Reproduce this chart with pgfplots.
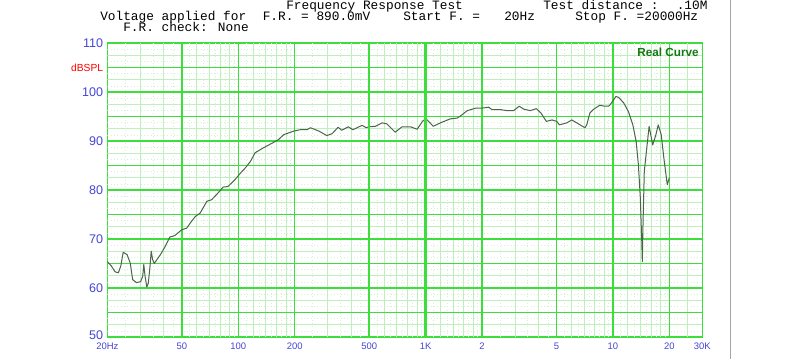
\documentclass[border=0pt]{standalone}
\usepackage{fontspec}
\setmainfont{Liberation Sans}
\newfontfamily\monof{Liberation Mono}
\usepackage{pgfplots}
\pgfplotsset{compat=1.18}
\definecolor{gmaj}{RGB}{60,222,60}
\definecolor{gmin}{RGB}{190,240,190}
\definecolor{gdot}{RGB}{210,242,210}
\definecolor{tickblue}{RGB}{70,70,215}
\definecolor{curvecol}{RGB}{75,100,75}
\definecolor{rcgreen}{RGB}{20,120,20}
\begin{document}
\begin{tikzpicture}[x=0.75pt,y=0.75pt]
\useasboundingbox (0,0) rectangle (800,359);
\fill[white] (0,0) rectangle (800,359);
\draw[gray!70, line width=0.75pt] (730,0) -- (730,359);
\begin{axis}[
  at={(80.5pt,16.5pt)}, anchor=south west,
  scale only axis, width=446.25pt, height=220.5pt,
  xmode=log, xmin=20, xmax=30000, ymin=50, ymax=110,
  xtick={20,50,100,200,500,1000,2000,5000,10000,20000,30000},
  xticklabels={20Hz,50,100,200,500,1K,2,5,10,20,30K},
  ytick={50,60,...,110},
  extra y ticks={105},
  extra y tick labels={\textcolor{red}{\fontsize{7.7}{8}\selectfont dBSPL}},
  yticklabels={\raisebox{3pt}{50},60,70,80,90,100,\raisebox{-4.5pt}{110}},
  grid=none, minor tick num=0,
  tick style={draw=none},
  major tick length=0pt, minor tick length=0pt,
  axis line style={gmaj, line width=1pt},
  yticklabel style={font=\fontsize{9.4}{10}\selectfont, text=tickblue, inner sep=0pt, xshift=-3pt},
  extra y tick style={yticklabel style={xshift=0pt}},
  xticklabel style={font=\fontsize{7.1}{8}\selectfont, text=tickblue, inner sep=0pt, yshift=-4pt},
  /pgf/number format/assume math mode=true,
]
% dotted grid
\pgfplotsinvokeforeach{25,35,45,55,65,75,85,95,110,130,150,170,190,250,350,450,550,650,750,850,950,1100,1300,1500,1700,1900,2500,3500,4500,5500,6500,7500,8500,9500,11000,13000,15000,17000,19000}{
  \draw[gdot, line width=0.5pt, dotted] (axis cs:#1,50) -- (axis cs:#1,110);}
\pgfplotsinvokeforeach{51.25,53.75,56.25,58.75,61.25,63.75,66.25,68.75,71.25,73.75,76.25,78.75,81.25,83.75,86.25,88.75,91.25,93.75,96.25,98.75,101.25,103.75,106.25,108.75}{
  \draw[gdot, line width=0.5pt, dotted] (axis cs:20,#1) -- (axis cs:30000,#1);}
% minor grid
\pgfplotsinvokeforeach{30,40,60,70,80,90,120,140,160,180,300,400,600,700,800,900,1200,1400,1600,1800,3000,4000,6000,7000,8000,9000,12000,14000,16000,18000,25000}{
  \draw[gmin, line width=0.6pt] (axis cs:#1,50) -- (axis cs:#1,110);}
\pgfplotsinvokeforeach{52.5,57.5,62.5,67.5,72.5,77.5,82.5,87.5,92.5,97.5,102.5,107.5}{
  \draw[gmin, line width=0.6pt] (axis cs:20,#1) -- (axis cs:30000,#1);}
% major grid
\pgfplotsinvokeforeach{50,100,200,2000,5000,10000,20000}{
  \draw[gmaj, line width=1pt] (axis cs:#1,50) -- (axis cs:#1,110);}
\pgfplotsinvokeforeach{55,60,65,70,75,80,85,90,95,100,105}{
  \draw[gmaj, line width=1pt] (axis cs:20,#1) -- (axis cs:30000,#1);}
\addplot[curvecol, line width=0.75pt, line join=round, mark=none] coordinates {
(20,65.4) (21,64.5) (22,63.3) (22.9,63.1) (23.6,64.5) (24.3,67.3) (25.5,66.8) (26.5,65.1)
(27.3,61.7) (28.6,61.1) (30.1,61.3) (30.9,62.4) (31.3,64.8) (31.8,62.4) (32.5,60.2) (33.1,61.0)
(33.8,64.5) (34.3,67.5) (34.9,65.8) (35.6,65.0) (38.4,66.8) (40.5,68.3) (43.1,70.4) (45.8,70.7)
(50,71.9) (53,72.2) (56,73.5) (59,74.6) (62.6,75.3) (68,77.7) (72,78.0) (78,79.4) (83,80.6)
(88,80.7) (96,82.1) (103,83.5) (109,84.5) (116,85.8) (123,87.6) (136,88.6) (154,89.7)
(164,90.3) (175,91.3) (197,92.0) (214,92.3) (232,92.3) (243,92.7) (270,92.0) (297,91.1)
(317,91.5) (341,92.8) (357,92.2) (387,92.9) (409,92.3) (458,93.2) (482,92.7) (497,92.9)
(539,93.0) (586,93.7) (621,93.5) (688,91.8) (749,92.9) (830,92.9) (901,92.4) (962,94.0)
(1002,94.6) (1098,93.0) (1200,93.7) (1350,94.5) (1480,94.7) (1570,95.4) (1670,96.2)
(1850,96.7) (2000,96.7) (2170,96.9) (2260,96.4) (2510,96.4) (2720,96.2) (2950,96.2)
(3160,97.1) (3340,96.5) (3620,96.2) (3900,96.6) (4130,95.7) (4410,94.0) (4730,94.3)
(5010,94.0) (5180,93.3) (5670,93.7) (6030,94.3) (6410,93.7) (7090,92.7) (7250,93.3)
(7530,95.7) (7840,96.4) (8500,97.3) (9040,97.1) (9450,97.1) (9620,97.3) (10380,99.1)
(10720,98.9) (11400,97.8) (12100,96.0) (12770,93.3) (13300,89.9) (13670,85.2) (14000,78.4)
(14250,69.5) (14350,65.4) (14470,72.9) (14700,83.8) (15100,88.0) (15600,93.0) (16300,89.2)
(16960,91.3) (17450,93.3) (18100,91.3) (18700,86.5) (19500,81.1) (20000,82.5)
};
\draw[gmaj, line width=1.1pt] (axis cs:500,50) -- (axis cs:500,110);
\draw[gmaj, line width=1.7pt] (axis cs:1000,50) -- (axis cs:1000,110);
\node[anchor=north east, inner sep=0pt, font=\fontsize{8.8}{10}\selectfont\bfseries, text=rcgreen]
  at (rel axis cs:1,1) [xshift=-2.5pt, yshift=-3.5pt] {Real Curve};
\end{axis}
\begin{scope}[every node/.style={anchor=base west, inner sep=0pt, font=\monof\fontsize{9.6}{11}\selectfont}]
\node at (286,349) {Frequency Response Test};
\node at (543,349) {Test distance :};
\node at (676.5,349) {.10M};
\node at (100,338) {Voltage applied for};
\node at (262.5,338) {F.R. = 890.0mV};
\node at (403,338) {Start F. =};
\node at (504,338) {20Hz};
\node at (575,338) {Stop F. =20000Hz};
\node at (123,327) {F.R. check: None};
\end{scope}
\end{tikzpicture}
\end{document}
